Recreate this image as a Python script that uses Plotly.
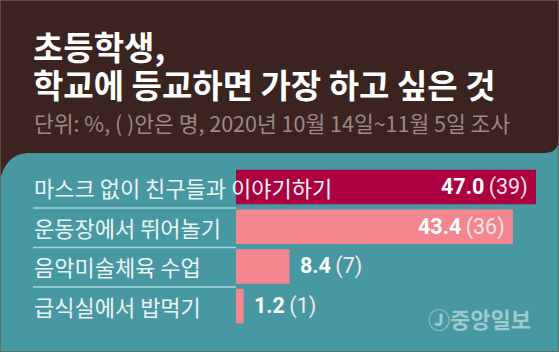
import plotly.graph_objects as go

categories = ["마스크 없이 친구들과 이야기하기", "운동장에서 뛰어놀기", "음악미술체육 수업", "급식실에서 밥먹기"]
percent = [47.0, 43.4, 8.4, 1.2]
counts = [39, 36, 7, 1]
bar_colors = ["#ad0040", "#f3868e", "#f3868e", "#f3868e"]
title_lines = ["초등학생,", "학교에 등교하면 가장 하고 싶은 것"]
subtitle = "단위: %, ( )안은 명, 2020년 10월 14일~11월 5일 조사"
source = "Ⓙ중앙일보"

W, H = 559, 352
BROWN = "#3b2420"
TEAL = "#4898a2"


def px(x):
    return x / W


def py(y):
    return 1 - y / H


def path(cmds):
    out = []
    for c in cmds:
        if isinstance(c, str):
            out.append(c)
        else:
            out.append(f"{px(c[0]):.5f},{py(c[1]):.5f}")
    return " ".join(out)


brown_path = path([
    "M", (0, 0), "L", (W, 0), "L", (W, 138),
    "Q", (W, 153), (W - 15, 153),
    "L", (30, 153),
    "C", (14, 153), (5, 162), (0, 179),
    "Z",
])

ypos = list(range(len(categories)))

fig = go.Figure(go.Bar(
    x=percent, y=ypos, orientation="h",
    marker=dict(color=bar_colors, line=dict(width=0)),
    width=0.87, hoverinfo="skip",
))

annotations = []
# title lines
for t, yc in zip(title_lines, [46, 84]):
    annotations.append(dict(xref="paper", yref="paper", x=px(31), y=py(yc), xanchor="left", yanchor="middle",
                            text=f"<b>{t}</b>", showarrow=False,
                            font=dict(family="Noto Sans CJK KR", size=33, color="#ffffff")))
annotations.append(dict(xref="paper", yref="paper", x=px(32), y=py(123), xanchor="left", yanchor="middle",
                        text=subtitle, showarrow=False,
                        font=dict(family="Noto Sans CJK KR", size=21.5, color="#9a8986")))
# category labels
for i, c in enumerate(categories):
    annotations.append(dict(xref="paper", yref="y", x=px(32), y=i, xanchor="left", yanchor="middle",
                            text=c, showarrow=False,
                            font=dict(family="Noto Sans CJK KR", size=22, color="#eaf5f5")))
# value labels
for i, (p, c) in enumerate(zip(percent, counts)):
    txt = f"<b>{p:.1f}</b>\u2009<span style='color:#f4e6e8'>({c})</span>"
    inside = p > 20
    annotations.append(dict(xref="x", yref="y", x=p, y=i,
                            xanchor="right" if inside else "left", yanchor="middle",
                            xshift=-6 if inside else 8,
                            text=txt, showarrow=False,
                            font=dict(family="Roboto", size=21.5, color="#ffffff")))
# source logo
annotations.append(dict(xref="paper", yref="paper", x=px(533), y=py(318), xanchor="right", yanchor="middle",
                        text=f"<b>{source}</b>", showarrow=False,
                        font=dict(family="Noto Sans CJK KR", size=22, color="#9ec9ce")))

shapes = [
    dict(type="path", xref="paper", yref="paper", path=brown_path,
         fillcolor=BROWN, line=dict(width=0), layer="below"),
]
for ysep in [208, 247.5, 287]:
    shapes.append(dict(type="line", xref="paper", yref="paper", x0=px(33), x1=px(236),
                       y0=py(ysep), y1=py(ysep), line=dict(color="#a6d3d8", width=1.5)))
shapes.append(dict(type="rect", xref="paper", yref="paper", x0=0, x1=1, y0=0, y1=1,
                   line=dict(color="#6a5c58", width=1.5), fillcolor="rgba(0,0,0,0)"))

scale = 6.383
fig.update_layout(
    width=W, height=H,
    margin=dict(l=0, r=0, t=0, b=0),
    paper_bgcolor=TEAL, plot_bgcolor="rgba(0,0,0,0)",
    showlegend=False,
    xaxis=dict(domain=[px(236), 1.0], range=[0, (W - 236) / scale], visible=False, fixedrange=True),
    yaxis=dict(domain=[py(326), py(167.2)], range=[3.5, -0.5], visible=False, fixedrange=True),
    annotations=annotations,
    shapes=shapes,
)

fig.write_html("out.html")
